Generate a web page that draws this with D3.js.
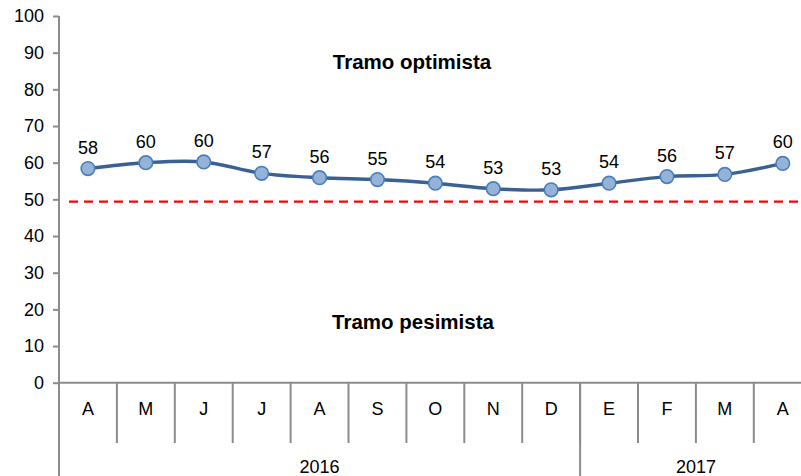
<!DOCTYPE html>
<html>
<head>
<meta charset="utf-8">
<script src="https://cdn.jsdelivr.net/npm/d3@7"></script>
<style>
  body { margin: 0; background: #fff; }
  svg { display: block; font-family: "Liberation Sans", Arial, sans-serif; }
</style>
</head>
<body>
<div class="Canvas"></div>
<script>
const months = ['A', 'M', 'J', 'J', 'A', 'S', 'O', 'N', 'D', 'E', 'F', 'M', 'A'];
const values = [58.4, 60.0, 60.2, 57.1, 55.9, 55.4, 54.4, 52.9, 52.6, 54.4, 56.2, 56.8, 59.8];
const labels = [58, 60, 60, 57, 56, 55, 54, 53, 53, 54, 56, 57, 60];
const years = ['2016', '2017'];
const yearCounts = [9, 4];
const threshold = 49.4;
const yTicks = [0, 10, 20, 30, 40, 50, 60, 70, 80, 90, 100];

const width = 801;
const height = 476;
const axisColor = '#8c8c8c';
const fontSize = '18px';

const svg = d3.select('.Canvas').append('svg').attr('width', width).attr('height', height);

const x = d3.scaleBand().domain(d3.range(months.length)).range([59, 59 + 13 * 57.9]);
const y = d3.scaleLinear().domain([0, 100]).range([382.7, 16]);

// y axis
const yAxis = svg.append('g').attr('transform', 'translate(59,0)')
  .attr('font-size', fontSize)
  .call(d3.axisLeft(y).tickValues(yTicks).tickSize(6).tickPadding(9));
yAxis.attr('font-size', fontSize).attr('font-family', '"Liberation Sans", Arial, sans-serif');
yAxis.select('.domain').remove();
yAxis.selectAll('line').attr('stroke', axisColor).attr('stroke-width', 2);
yAxis.selectAll('text').attr('fill', '#000').style('font-size', fontSize);
svg.append('line').attr('x1', 59).attr('x2', 59).attr('y1', y(100)).attr('y2', height)
  .attr('stroke', axisColor).attr('stroke-width', 2);

// x axis line
svg.append('line').attr('x1', 59).attr('x2', width).attr('y1', y(0)).attr('y2', y(0))
  .attr('stroke', axisColor).attr('stroke-width', 2);

// month separators
svg.selectAll('line.mtick').data(d3.range(1, months.length)).enter().append('line')
  .attr('class', 'mtick')
  .attr('x1', (d) => x(d)).attr('x2', (d) => x(d))
  .attr('y1', y(0)).attr('y2', 443)
  .attr('stroke', axisColor).attr('stroke-width', 2);

svg.selectAll('text.month').data(months).enter().append('text')
  .attr('class', 'month')
  .attr('x', (d, i) => x(i) + x.bandwidth() / 2)
  .attr('y', 414.5)
  .attr('text-anchor', 'middle')
  .attr('font-size', fontSize)
  .text((d) => d);

// year groups
let start = 0;
years.forEach((yr, k) => {
  const end = start + yearCounts[k];
  if (k > 0) {
    svg.append('line').attr('x1', x(start)).attr('x2', x(start)).attr('y1', y(0)).attr('y2', height)
      .attr('stroke', axisColor).attr('stroke-width', 2);
  }
  const cx = (x(start) + x(end - 1) + x.bandwidth()) / 2;
  svg.append('text').attr('x', cx).attr('y', 473).attr('text-anchor', 'middle')
    .attr('font-size', fontSize).text(yr);
  start = end;
});

// threshold line
svg.append('line').attr('x1', x(0) + 10).attr('x2', width)
  .attr('y1', y(threshold)).attr('y2', y(threshold))
  .attr('stroke', '#ff0000').attr('stroke-width', 2.2).attr('stroke-dasharray', '9,6');

// series
const line = d3.line()
  .x((d, i) => x(i) + x.bandwidth() / 2)
  .y((d) => y(d))
  .curve(d3.curveCatmullRom.alpha(0));
svg.append('path').datum(values).attr('d', line)
  .attr('fill', 'none').attr('stroke', '#3a6192').attr('stroke-width', 3.4);

svg.selectAll('circle.pt').data(values).enter().append('circle')
  .attr('class', 'pt')
  .attr('cx', (d, i) => x(i) + x.bandwidth() / 2)
  .attr('cy', (d) => y(d))
  .attr('r', 6.8)
  .attr('fill', '#95b3d7').attr('stroke', '#4a7ebb').attr('stroke-width', 1.6);

svg.selectAll('text.lbl').data(values).enter().append('text')
  .attr('class', 'lbl')
  .attr('x', (d, i) => x(i) + x.bandwidth() / 2)
  .attr('y', (d) => y(d) - 15)
  .attr('text-anchor', 'middle')
  .attr('font-size', fontSize)
  .text((d, i) => labels[i]);

// zone titles
svg.append('text').attr('x', 412).attr('y', 69).attr('text-anchor', 'middle')
  .attr('font-size', '20.5px').attr('font-weight', 'bold').text('Tramo optimista');
svg.append('text').attr('x', 413).attr('y', 329).attr('text-anchor', 'middle')
  .attr('font-size', '20.5px').attr('font-weight', 'bold').text('Tramo pesimista');
</script>
</body>
</html>
